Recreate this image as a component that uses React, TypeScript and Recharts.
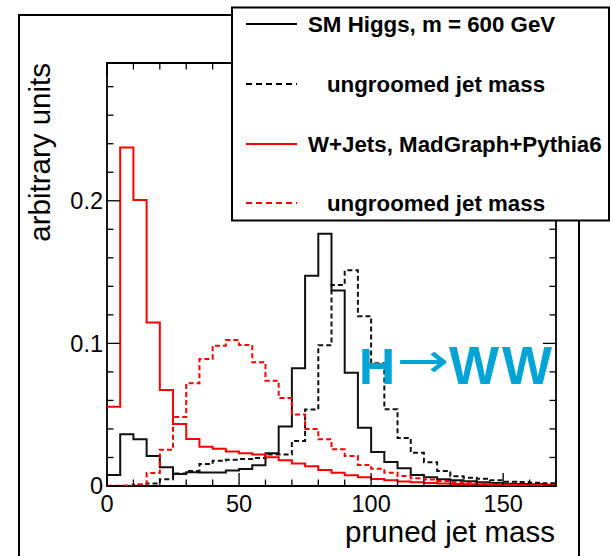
import React from "react";
import { LineChart, Line, XAxis, YAxis, ReferenceArea } from "recharts";

// ── data: 5 GeV bins from 0 to 170 ─────────────────────────────────────────
const binEdges = [
  0, 5, 10, 15, 20, 25, 30, 35, 40, 45, 50, 55, 60, 65, 70, 75, 80, 85,
  90, 95, 100, 105, 110, 115, 120, 125, 130, 135, 140, 145, 150, 155, 160, 165, 170,
];

// SM Higgs, m = 600 GeV, pruned jet mass (black solid)
const higgsPruned = [
  0.0077, 0.0363, 0.0328, 0.021, 0.0131, 0.0085, 0.0096, 0.0095, 0.0095, 0.0108,
  0.012, 0.0145, 0.023, 0.0417, 0.0826, 0.1475, 0.1768, 0.137, 0.0794, 0.0408,
  0.0238, 0.0168, 0.0124, 0.0077, 0.0061, 0.0047, 0.004, 0.0033, 0.0026, 0.0021,
  0.0016, 0.0014, 0.0012, 0.0009,
];

// SM Higgs, ungroomed jet mass (black dashed)
const higgsUngroomed = [
  0, 0, 0.0007, 0.0017, 0.0047, 0.0088, 0.0105, 0.0155, 0.0177, 0.0184,
  0.0189, 0.0196, 0.022, 0.022, 0.0315, 0.0536, 0.0987, 0.141, 0.1512, 0.119,
  0.086, 0.0539, 0.0337, 0.0233, 0.0166, 0.0106, 0.0068, 0.0058, 0.0051, 0.004,
  0.003, 0.0028, 0.0023, 0.0019,
];

// W+Jets, pruned jet mass (red solid)
const wjetsPruned = [
  0.0556, 0.2374, 0.2005, 0.1147, 0.0673, 0.0434, 0.0329, 0.0276, 0.0262, 0.0242,
  0.023, 0.0221, 0.0202, 0.0181, 0.0157, 0.0138, 0.0112, 0.0093, 0.0075, 0.0061,
  0.0049, 0.004, 0.0032, 0.0026, 0.0021, 0.0017, 0.0014, 0.0012, 0.001, 0.0008,
  0.0007, 0.0006, 0.0005, 0.0004,
];

// W+Jets, ungroomed jet mass (red dashed)
const wjetsUngroomed = [
  0.0002, 0.0003, 0.0013, 0.0091, 0.0254, 0.0484, 0.072, 0.089, 0.0984, 0.1023,
  0.0988, 0.0867, 0.0738, 0.0617, 0.0502, 0.04, 0.0327, 0.0257, 0.021, 0.0147,
  0.0121, 0.0093, 0.007, 0.0055, 0.0045, 0.0035, 0.0028, 0.0022, 0.0017, 0.0013,
  0.001, 0.0008, 0.0006, 0.0005,
];

const xTicks = [0, 10, 20, 30, 40, 50, 60, 70, 80, 90, 100, 110, 120, 130, 140, 150, 160, 170];
const yTicks = [0, 0.02, 0.04, 0.06, 0.08, 0.1, 0.12, 0.14, 0.16, 0.18, 0.2, 0.22, 0.24, 0.26, 0.28];
const Y_MAX = 0.2966;

// step-after table: last bin repeated at the upper edge so the step reaches 170
const last = higgsPruned.length - 1;
const rows = binEdges.map((m, i) => {
  const k = Math.min(i, last);
  return { m, hp: higgsPruned[k], hu: higgsUngroomed[k], wp: wjetsPruned[k], wu: wjetsUngroomed[k] };
});

// ── layout ─────────────────────────────────────────────────────────────────
const FONT = "'Liberation Sans', Arial, Helvetica, sans-serif";
const PLOT = { left: 107, right: 556, top: 63, bottom: 486 };
const CYAN = "#00a5d6";

function XTick(props: any) {
  const { x, payload } = props;
  const v = payload.value as number;
  const major = v % 50 === 0;
  const len = major ? 13 : 6.5;
  return (
    <g>
      <line x1={x} x2={x} y1={PLOT.bottom} y2={PLOT.bottom - len} stroke="#000" strokeWidth={1.3} />
      <line x1={x} x2={x} y1={PLOT.top} y2={PLOT.top + len} stroke="#000" strokeWidth={1.3} />
      {major && (
        <text x={x} y={512} textAnchor="middle" fontSize={23.5} fontFamily={FONT} fill="#000">
          {v}
        </text>
      )}
    </g>
  );
}

function YTick(props: any) {
  const { y, payload } = props;
  const v = payload.value as number;
  const major = Math.abs(v * 10 - Math.round(v * 10)) < 1e-6;
  const len = major ? 13 : 6.5;
  return (
    <g>
      <line x1={PLOT.left} x2={PLOT.left + len} y1={y} y2={y} stroke="#000" strokeWidth={1.3} />
      <line x1={PLOT.right} x2={PLOT.right - len} y1={y} y2={y} stroke="#000" strokeWidth={1.3} />
      {major && (
        <text x={103} y={y} dy="0.35em" textAnchor="end" fontSize={23.5} fontFamily={FONT} fill="#000">
          {v === 0 ? "0" : v.toFixed(1)}
        </text>
      )}
    </g>
  );
}

const legendRows = [
  { label: "SM Higgs, m = 600 GeV", color: "#000", dash: undefined, x: 308 },
  { label: "ungroomed jet mass", color: "#000", dash: "6 4", x: 327 },
  { label: "W+Jets, MadGraph+Pythia6", color: "#ff0000", dash: undefined, x: 308 },
  { label: "ungroomed jet mass", color: "#ff0000", dash: "6 4", x: 327 },
];
const legendRowY = [24, 84, 144, 203];

function Overlay() {
  return (
    <svg width={611} height={556} style={{ position: "absolute", left: 0, top: 0, pointerEvents: "none" }}>
      {/* axis titles */}
      <text
        x={50}
        y={63}
        transform="rotate(-90 50 63)"
        textAnchor="end"
        fontSize={29.5}
        fontFamily={FONT}
        fill="#000"
      >
        arbitrary units
      </text>
      <text x={555} y={542} textAnchor="end" fontSize={29.5} fontFamily={FONT} fill="#000">
        pruned jet mass
      </text>

      {/* H -> WW */}
      <text x={359} y={384} fontSize={50} fontWeight="bold" fontFamily={FONT} fill={CYAN}>
        H
      </text>
      <text
        transform="translate(423 377) scale(1.05 0.8)"
        textAnchor="middle"
        fontSize={60}
        fontFamily="'DejaVu Sans', sans-serif"
        fill={CYAN}
      >
        →
      </text>
      <text x={449} y={384} fontSize={53} fontWeight="bold" letterSpacing={3} fontFamily={FONT} fill={CYAN}>
        WW
      </text>

      {/* legend */}
      <rect x={232} y={7.5} width={377} height={213} fill="#fff" stroke="#000" strokeWidth={2} />
      {legendRows.map((r, i) => (
        <g key={i}>
          <line
            x1={246}
            x2={297}
            y1={legendRowY[i]}
            y2={legendRowY[i]}
            stroke={r.color}
            strokeWidth={2}
            strokeDasharray={r.dash}
          />
          <text
            x={r.x}
            y={legendRowY[i] + 7.5}
            fontSize={22.3}
            fontWeight="bold"
            fontFamily={FONT}
            fill="#000"
          >
            {r.label}
          </text>
        </g>
      ))}
    </svg>
  );
}

export default function App() {
  return (
    <div style={{ position: "absolute", left: 0, top: 0, width: 611, height: 556, background: "#fff", overflow: "hidden" }}>
      {/* canvas frame */}
      <div
        style={{
          position: "absolute",
          left: 17.7,
          top: 14,
          width: 562,
          height: 620,
          border: "2px solid #000",
          boxSizing: "border-box",
        }}
      />
      <div style={{ position: "absolute", left: 0, top: 0 }}>
        <LineChart width={611} height={556} data={rows} margin={{ top: 63, right: 55, bottom: 0, left: 0 }}>
          <XAxis
            type="number"
            dataKey="m"
            domain={[0, 170]}
            ticks={xTicks}
            interval={0}
            height={70}
            axisLine={false}
            tickLine={false}
            tick={XTick}
            allowDataOverflow
          />
          <YAxis
            type="number"
            domain={[0, Y_MAX]}
            ticks={yTicks}
            interval={0}
            width={107}
            axisLine={false}
            tickLine={false}
            tick={YTick}
            allowDataOverflow
          />
          <ReferenceArea x1={0} x2={170} y1={0} y2={Y_MAX} fill="none" stroke="#000" strokeWidth={1.8} />
          <Line type="stepAfter" dataKey="hp" stroke="#111" strokeWidth={2} dot={false} activeDot={false} isAnimationActive={false} />
          <Line type="stepAfter" dataKey="hu" stroke="#111" strokeWidth={2} strokeDasharray="5 3" dot={false} activeDot={false} isAnimationActive={false} />
          <Line type="stepAfter" dataKey="wp" stroke="#ff0000" strokeWidth={2} dot={false} activeDot={false} isAnimationActive={false} />
          <Line type="stepAfter" dataKey="wu" stroke="#ff0000" strokeWidth={2} strokeDasharray="5 3" dot={false} activeDot={false} isAnimationActive={false} />
        </LineChart>
      </div>
      <Overlay />
    </div>
  );
}
